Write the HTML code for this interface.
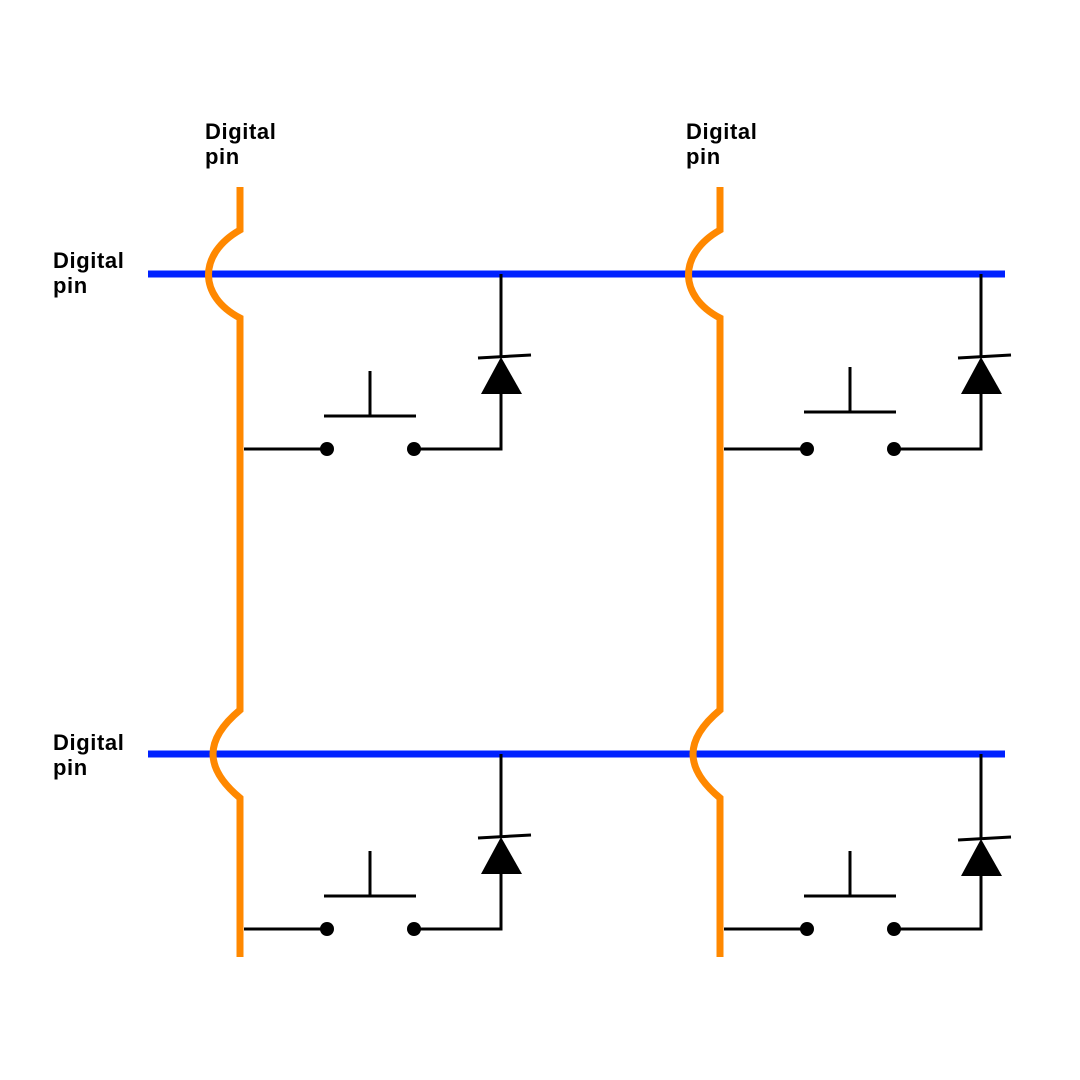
<!DOCTYPE html>
<html><head><meta charset="utf-8"><style>
html,body{margin:0;padding:0;background:#fff;}
svg{display:block;}
text{font-family:"Liberation Sans",sans-serif;font-weight:bold;font-size:22px;letter-spacing:0.6px;fill:#000;}
</style></head><body>
<svg id="c" width="1080" height="1080" viewBox="0 0 1080 1080" xmlns="http://www.w3.org/2000/svg">
<g>
<text x="205" y="139">Digital<tspan x="205" dy="25">pin</tspan></text>
<text x="686" y="139">Digital<tspan x="686" dy="25">pin</tspan></text>
<text x="53" y="268">Digital<tspan x="53" dy="25">pin</tspan></text>
<text x="53" y="750">Digital<tspan x="53" dy="25">pin</tspan></text>
</g>
<g id="rows"></g>
<g id="cols"></g>
<g id="cells"></g>
</svg>
<script>
const colX=[240,720];
const rowY=[274,754];
const NS="http://www.w3.org/2000/svg";
function mk(tag,attrs,parent){const e=document.createElementNS(NS,tag);for(const k in attrs)e.setAttribute(k,attrs[k]);document.getElementById(parent).appendChild(e);return e;}
rowY.forEach((y,i)=>{
  const l=mk('line',{x1:148,x2:1005,y1:y,y2:y,stroke:'#0022ff','stroke-width':7},'rows');
  
  
});
colX.forEach((x,i)=>{
  const d=`M${x},187 V${rowY[0]-44} C${x-42},${rowY[0]-20} ${x-42},${rowY[0]+22} ${x},${rowY[0]+44} V${rowY[1]-44} C${x-36},${rowY[1]-14} ${x-36},${rowY[1]+14} ${x},${rowY[1]+44} V957`;
  const p=mk('path',{d:d,fill:'none',stroke:'#ff8800','stroke-width':7},'cols');
  
  
});
rowY.forEach((y,r)=>{colX.forEach((x,c)=>{
  const g=mk('g',{stroke:'#000','stroke-width':3,fill:'none'},'cells');
  
  
  const ly=y+175, dx=x+261;
  const sOff=(c===1&&r===0)?-4:0;
  const dOff=(c===1&&r===1)?2:0;
  const w=document.createElementNS(NS,'path');
  w.setAttribute('d',`M${x+4},${ly} H${x+87} M${x+174},${ly} H${dx} V${y+120+dOff} M${dx},${y+82+dOff} V${y}`);
  g.appendChild(w);
  const bar=document.createElementNS(NS,'path');
  bar.setAttribute('d',`M${x+84},${ly-33+sOff} H${x+176} M${x+130},${ly-33+sOff} V${ly-78+sOff}`);
  
  
  g.appendChild(bar);
  [x+87,x+174].forEach(cx=>{const d=document.createElementNS(NS,'circle');d.setAttribute('cx',cx);d.setAttribute('cy',ly);d.setAttribute('r',7);d.setAttribute('fill','#000');d.setAttribute('stroke','none');g.appendChild(d);});
  const cat=document.createElementNS(NS,'line');
  cat.setAttribute('x1',dx-23);cat.setAttribute('y1',y+84+dOff);cat.setAttribute('x2',dx+30);cat.setAttribute('y2',y+81+dOff);
  
  
  g.appendChild(cat);
  const tri=document.createElementNS(NS,'polygon');
  tri.setAttribute('points',`${dx},${y+83+dOff} ${dx+21},${y+120+dOff} ${dx-20},${y+120+dOff}`);
  tri.setAttribute('fill','#000');tri.setAttribute('stroke','none');
  
  
  g.appendChild(tri);
});});
</script>
</body></html>
